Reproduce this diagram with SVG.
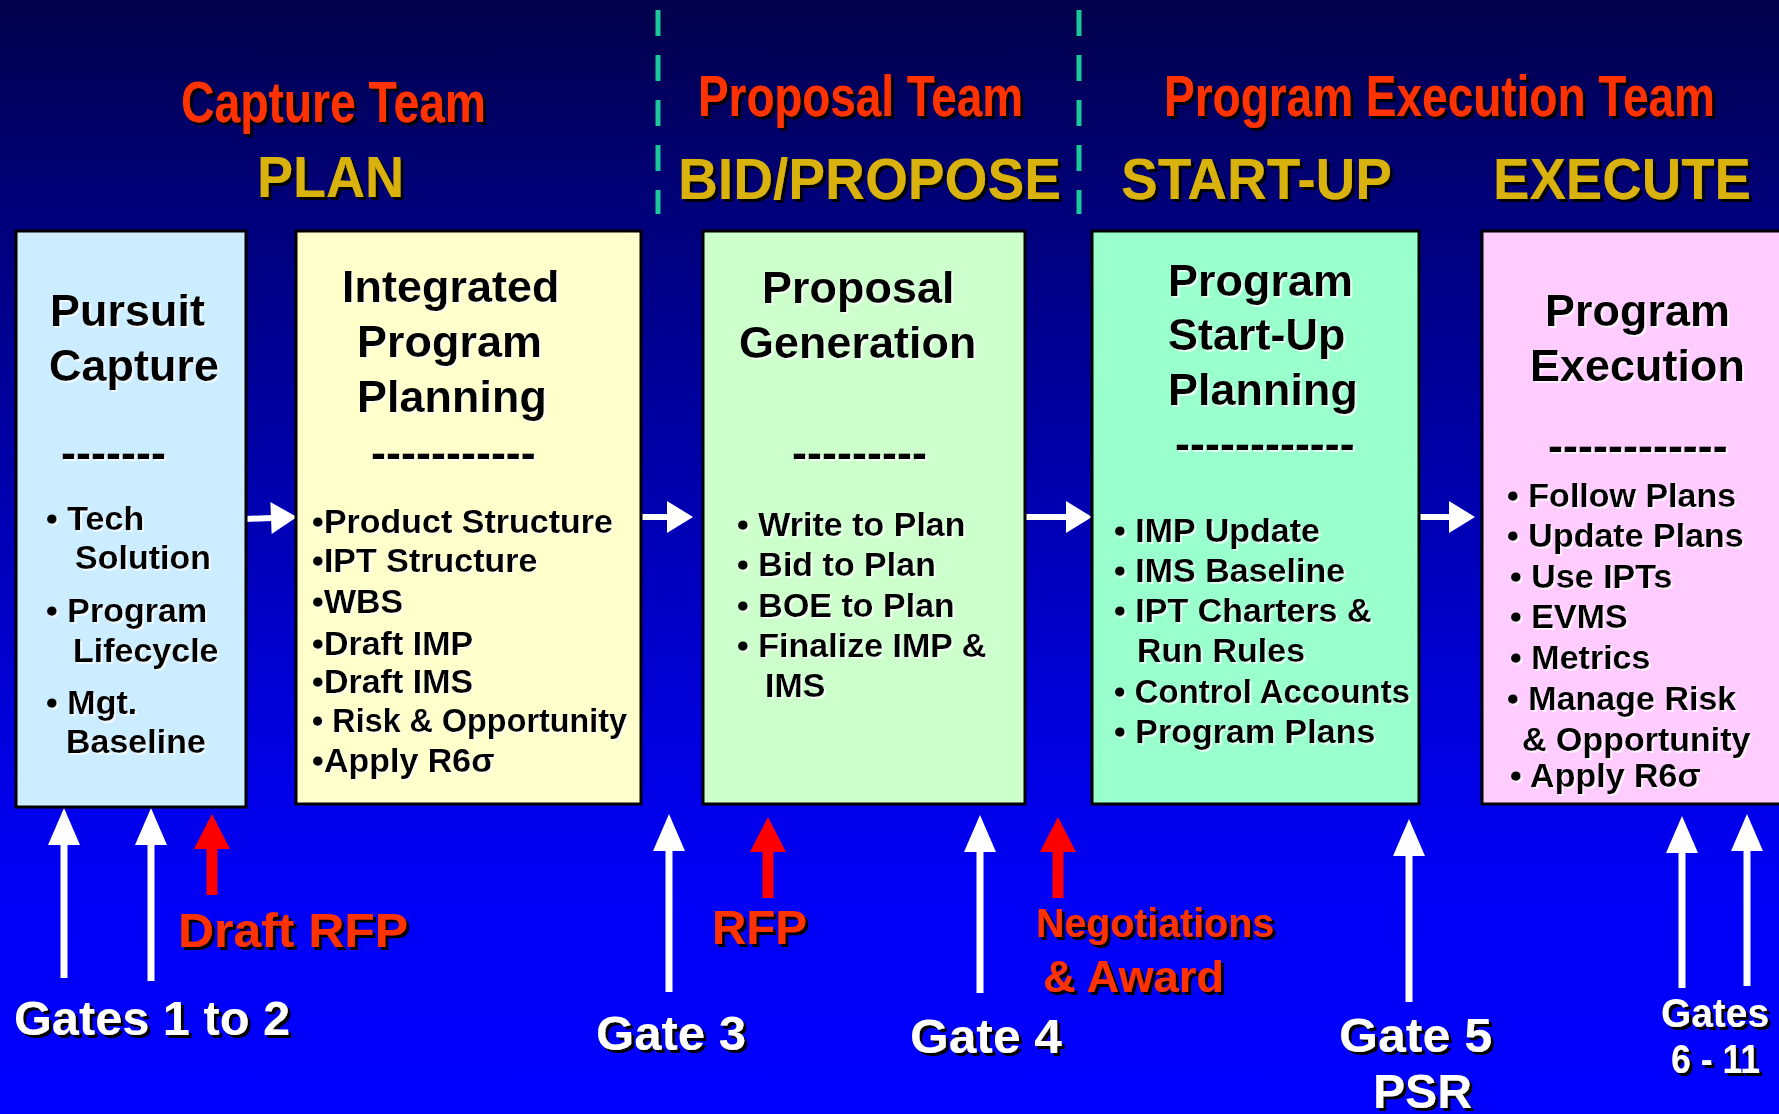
<svg xmlns="http://www.w3.org/2000/svg" width="1779" height="1114" viewBox="0 0 1779 1114">
<defs>
<linearGradient id="bg" x1="0" y1="0" x2="0" y2="1">
<stop offset="0" stop-color="#00004A"/>
<stop offset="0.18" stop-color="#000078"/>
<stop offset="0.45" stop-color="#0000B0"/>
<stop offset="0.7" stop-color="#0000E6"/>
<stop offset="0.8" stop-color="#0000F5"/>
<stop offset="1" stop-color="#0000FF"/>
</linearGradient>
<filter id="shDark" x="-5%" y="-20%" width="115%" height="150%">
<feDropShadow dx="3" dy="3" stdDeviation="0" flood-color="#000000" flood-opacity="1"/>
</filter>
<filter id="shLight" x="-5%" y="-20%" width="115%" height="150%">
<feDropShadow dx="2" dy="2" stdDeviation="0" flood-color="#FFFFFF" flood-opacity="0.7"/>
</filter>
<marker id="hW" markerUnits="userSpaceOnUse" markerWidth="38" markerHeight="32" viewBox="0 -16 38 32" refX="1" refY="0" orient="auto" overflow="visible">
<path d="M0,-16 L37,0 L0,16 Z" fill="#FFFFFF"/>
</marker>
<marker id="hH" markerUnits="userSpaceOnUse" markerWidth="27" markerHeight="32" viewBox="0 -16 27 32" refX="1" refY="0" orient="auto" overflow="visible">
<path d="M0,-16 L26,0 L0,16 Z" fill="#FFFFFF"/>
</marker>
<marker id="hR" markerUnits="userSpaceOnUse" markerWidth="36" markerHeight="36" viewBox="0 -18 36 36" refX="1" refY="0" orient="auto" overflow="visible">
<path d="M0,-18 L35,0 L0,18 Z" fill="#FF0000"/>
</marker>
</defs>
<style>
.f{font-family:"Liberation Sans",Arial,sans-serif;font-weight:bold}
.team{fill:#FF3300;font-size:58px;filter:url(#shDark)}
.phase{fill:#DAB20A;font-size:58px;filter:url(#shDark)}
.box{stroke:#000000;stroke-width:3}
.ttl{fill:#000000;font-size:45px;filter:url(#shLight)}
.bl{fill:#000000;font-size:34px;filter:url(#shLight)}
.wl{fill:#FFFFFF;font-size:49px;filter:url(#shDark)}
.rl{fill:#FF3300;font-size:49px;filter:url(#shDark)}
.dash{stroke:#1CC79A;stroke-width:5;stroke-dasharray:26 19;fill:none}
.aw{stroke:#FFFFFF;stroke-width:7;fill:none;marker-end:url(#hW)}
.ah{stroke:#FFFFFF;stroke-width:6;fill:none;marker-end:url(#hH)}
.ar{stroke:#FF0000;stroke-width:11;fill:none;marker-end:url(#hR)}
</style>
<rect x="0" y="0" width="1779" height="1114" fill="url(#bg)"/>

<g id="dividers">
<line class="dash" x1="658" y1="10" x2="658" y2="214"/>
<line class="dash" x1="1079" y1="10" x2="1079" y2="214"/>
</g>

<g id="headers" class="f">
<text class="team" x="181" y="122" textLength="305" lengthAdjust="spacingAndGlyphs">Capture Team</text>
<text class="phase" x="257" y="197" textLength="147" lengthAdjust="spacingAndGlyphs">PLAN</text>
<text class="team" x="698" y="116" textLength="325" lengthAdjust="spacingAndGlyphs">Proposal Team</text>
<text class="phase" x="678" y="199" textLength="383" lengthAdjust="spacingAndGlyphs">BID/PROPOSE</text>
<text class="team" x="1164" y="116" textLength="551" lengthAdjust="spacingAndGlyphs">Program Execution Team</text>
<text class="phase" x="1121" y="199" textLength="271" lengthAdjust="spacingAndGlyphs">START-UP</text>
<text class="phase" x="1493" y="199" textLength="258" lengthAdjust="spacingAndGlyphs">EXECUTE</text>
</g>

<g id="connectors">
<line class="ah" x1="246" y1="519" x2="272" y2="518"/>
<line class="ah" x1="641" y1="517" x2="668" y2="517"/>
<line class="ah" x1="1025" y1="517" x2="1067" y2="517"/>
<line class="ah" x1="1420" y1="517" x2="1450" y2="517"/>
<line class="aw" x1="64" y1="978" x2="64" y2="844"/>
<line class="aw" x1="151" y1="981" x2="151" y2="844"/>
<line class="ar" x1="212" y1="895" x2="212" y2="848"/>
<line class="aw" x1="669" y1="992" x2="669" y2="850"/>
<line class="ar" x1="768" y1="898" x2="768" y2="851"/>
<line class="aw" x1="980" y1="993" x2="980" y2="851"/>
<line class="ar" x1="1058" y1="898" x2="1058" y2="851"/>
<line class="aw" x1="1409" y1="1002" x2="1409" y2="855"/>
<line class="aw" x1="1682" y1="988" x2="1682" y2="852"/>
<line class="aw" x1="1747" y1="986" x2="1747" y2="850"/>
</g>

<g id="pursuit-capture" class="f">
<rect class="box" x="16" y="231" width="230" height="576" fill="#CCECFF"/>
<text class="ttl" x="50" y="326">Pursuit</text>
<text class="ttl" x="49" y="381">Capture</text>
<text class="ttl" x="61" y="468">-------</text>
<text class="bl" x="46" y="530">•  Tech</text>
<text class="bl" x="75" y="569">Solution</text>
<text class="bl" x="46" y="622">• Program</text>
<text class="bl" x="73" y="662">Lifecycle</text>
<text class="bl" x="46" y="714">•  Mgt.</text>
<text class="bl" x="66" y="753">Baseline</text>
</g>

<g id="integrated-program-planning" class="f">
<rect class="box" x="296" y="231" width="345" height="573" fill="#FFFFCC"/>
<text class="ttl" x="342" y="302">Integrated</text>
<text class="ttl" x="357" y="357">Program</text>
<text class="ttl" x="357" y="412">Planning</text>
<text class="ttl" x="371" y="468">-----------</text>
<text class="bl" x="312" y="533">•Product Structure</text>
<text class="bl" x="312" y="572">•IPT Structure</text>
<text class="bl" x="312" y="613">•WBS</text>
<text class="bl" x="312" y="655">•Draft IMP</text>
<text class="bl" x="312" y="693">•Draft IMS</text>
<text class="bl" x="312" y="732" textLength="315" lengthAdjust="spacingAndGlyphs">• Risk &amp; Opportunity</text>
<text class="bl" x="312" y="772">•Apply R6σ</text>
</g>

<g id="proposal-generation" class="f">
<rect class="box" x="703" y="231" width="322" height="573" fill="#CCFFCC"/>
<text class="ttl" x="762" y="303">Proposal</text>
<text class="ttl" x="739" y="358">Generation</text>
<text class="ttl" x="792" y="468">---------</text>
<text class="bl" x="737" y="536">• Write to Plan</text>
<text class="bl" x="737" y="576">• Bid to Plan</text>
<text class="bl" x="737" y="617">• BOE to Plan</text>
<text class="bl" x="737" y="657">• Finalize IMP &amp;</text>
<text class="bl" x="765" y="697">IMS</text>
</g>

<g id="program-start-up-planning" class="f">
<rect class="box" x="1092" y="231" width="327" height="573" fill="#99FFCC"/>
<text class="ttl" x="1168" y="296">Program</text>
<text class="ttl" x="1168" y="350">Start-Up</text>
<text class="ttl" x="1168" y="405">Planning</text>
<text class="ttl" x="1175" y="459">------------</text>
<text class="bl" x="1114" y="542">•  IMP Update</text>
<text class="bl" x="1114" y="582">•  IMS Baseline</text>
<text class="bl" x="1114" y="622">• IPT Charters &amp;</text>
<text class="bl" x="1137" y="662">Run Rules</text>
<text class="bl" x="1114" y="703" textLength="296" lengthAdjust="spacingAndGlyphs">• Control Accounts</text>
<text class="bl" x="1114" y="743">• Program Plans</text>
</g>

<g id="program-execution" class="f">
<rect class="box" x="1482" y="231" width="310" height="573" fill="#FFCCFF"/>
<text class="ttl" x="1545" y="326">Program</text>
<text class="ttl" x="1530" y="381">Execution</text>
<text class="ttl" x="1548" y="461">------------</text>
<text class="bl" x="1507" y="507">• Follow Plans</text>
<text class="bl" x="1507" y="547">• Update Plans</text>
<text class="bl" x="1510" y="588">•  Use IPTs</text>
<text class="bl" x="1510" y="628">•  EVMS</text>
<text class="bl" x="1510" y="669">•  Metrics</text>
<text class="bl" x="1507" y="710">• Manage Risk</text>
<text class="bl" x="1522" y="751">&amp; Opportunity</text>
<text class="bl" x="1510" y="787">•  Apply R6σ</text>
</g>

<g id="gate-labels" class="f">
<text class="wl" x="14" y="1035" textLength="276" lengthAdjust="spacingAndGlyphs">Gates 1 to 2</text>
<text class="rl" x="178" y="947" textLength="230" lengthAdjust="spacingAndGlyphs">Draft RFP</text>
<text class="wl" x="596" y="1050" textLength="150" lengthAdjust="spacingAndGlyphs">Gate 3</text>
<text class="rl" x="712" y="944" textLength="95" lengthAdjust="spacingAndGlyphs">RFP</text>
<text class="wl" x="910" y="1053" textLength="152" lengthAdjust="spacingAndGlyphs">Gate 4</text>
<text class="rl" x="1036" y="937" style="font-size:40px" textLength="238" lengthAdjust="spacingAndGlyphs">Negotiations</text>
<text class="rl" x="1043" y="992" style="font-size:45px" textLength="181" lengthAdjust="spacingAndGlyphs">&amp; Award</text>
<text class="wl" x="1339" y="1052" textLength="153" lengthAdjust="spacingAndGlyphs">Gate 5</text>
<text class="wl" x="1373" y="1108" textLength="99" lengthAdjust="spacingAndGlyphs">PSR</text>
<text class="wl" x="1661" y="1027" style="font-size:40px" textLength="108" lengthAdjust="spacingAndGlyphs">Gates</text>
<text class="wl" x="1671" y="1073" style="font-size:40px" textLength="89" lengthAdjust="spacingAndGlyphs">6 - 11</text>
</g>
</svg>
